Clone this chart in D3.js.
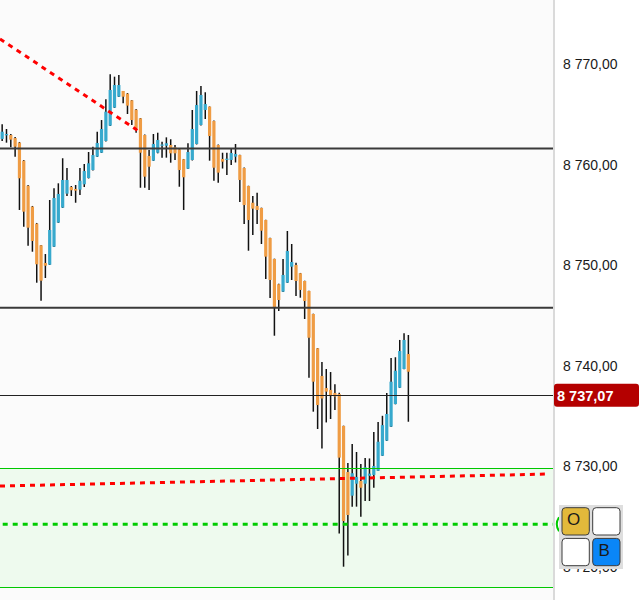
<!DOCTYPE html>
<html><head><meta charset="utf-8">
<script src="https://cdn.jsdelivr.net/npm/d3@7"></script>
<style>html,body{margin:0;padding:0;background:#fff;}svg{display:block;font-family:"Liberation Sans",Arial,sans-serif;}</style>
</head><body><svg id="c" width="639" height="600"></svg>
<script>
// ---- data ----
const openV = [8762.55,8762.94,8762.94,8762.64,8762.18,8760.39,8757.90,8755.82,8754.13,8751.98,
8750.22,8750.05,8751.84,8754.23,8755.72,8757.11,8757.77,8757.58,8757.51,8758.04,
8758.67,8759.46,8760.79,8761.18,8762.35,8763.87,8765.66,8766.75,8767.32,8767.05,
8766.39,8765.46,8764.60,8762.94,8760.86,8760.39,8761.18,8761.90,8761.88,8761.95,
8761.72,8761.52,8760.53,8759.59,8760.46,8762.05,8763.94,8765.43,8765.76,8764.33,
8761.95,8760.56,8760.49,8760.46,8760.79,8760.95,8759.66,8757.87,8756.21,8755.89,
8755.69,8754.49,8752.70,8750.62,8748.11,8747.37,8748.26,8749.85,8750.02,8749.20,
8748.43,8747.44,8745.15,8741.74,8738.99,8737.79,8737.60,8737.30,8737.20,8734.02,
8729.44,8727.09,8728.28,8728.55,8728.28,8729.07,8729.15,8729.56,8731.06,8732.56,
8733.95,8736.20,8737.82,8739.68,8741.17];
const highV = [8764.01,8763.54,8763.04,8762.74,8762.25,8760.46,8757.97,8755.89,8754.20,8752.01,
8751.11,8756.48,8757.64,8758.14,8760.63,8759.66,8757.87,8757.97,8759.66,8760.06,
8761.25,8761.78,8763.27,8764.43,8766.49,8768.98,8768.74,8768.91,8767.32,8767.12,
8766.42,8765.53,8764.63,8762.99,8761.45,8763.04,8763.17,8762.28,8762.71,8762.52,
8761.95,8761.55,8760.56,8762.12,8765.43,8767.32,8767.81,8767.19,8765.78,8764.38,
8762.00,8761.18,8761.18,8761.60,8762.05,8760.98,8759.71,8757.90,8756.88,8757.21,
8755.72,8754.52,8752.73,8750.65,8748.16,8750.62,8753.40,8752.11,8750.25,8749.23,
8748.46,8747.47,8745.18,8741.77,8740.38,8739.68,8739.38,8738.16,8737.33,8734.05,
8730.34,8732.23,8731.43,8730.24,8730.84,8730.79,8733.42,8734.41,8735.03,8737.30,
8740.78,8740.85,8742.57,8743.23,8743.06];
const lowV = [8762.35,8762.18,8761.72,8760.79,8755.49,8753.83,8751.94,8751.34,8748.26,8746.47,
8748.73,8750.02,8751.81,8754.20,8755.69,8756.88,8756.88,8756.21,8756.98,8757.77,
8758.62,8759.41,8760.76,8761.15,8762.30,8763.84,8765.63,8766.72,8766.09,8765.03,
8763.94,8763.17,8757.70,8757.70,8757.48,8760.36,8761.12,8760.69,8760.69,8760.19,
8760.46,8757.80,8755.49,8759.56,8760.41,8762.00,8763.89,8764.53,8760.39,8758.40,
8758.20,8759.61,8758.97,8759.96,8760.21,8756.28,8754.10,8751.44,8753.00,8754.10,
8752.11,8748.63,8746.74,8742.99,8745.45,8747.34,8748.23,8748.53,8746.94,8746.77,
8744.65,8738.82,8735.44,8733.72,8731.78,8734.37,8734.71,8735.61,8723.33,8720.03,
8721.14,8726.00,8726.00,8725.00,8726.56,8726.56,8727.88,8729.54,8731.04,8732.53,
8733.92,8736.17,8737.79,8739.65,8734.44];
const closeV = [8763.27,8763.04,8762.48,8761.78,8758.64,8755.32,8753.73,8752.41,8750.09,8748.46,
8749.95,8753.50,8756.68,8757.08,8758.47,8758.47,8757.45,8757.41,8758.40,8759.36,
8760.13,8760.95,8762.15,8763.54,8765.26,8767.42,8767.91,8767.91,8766.75,8765.86,
8764.43,8763.64,8761.18,8758.80,8759.79,8762.05,8762.45,8762.00,8762.12,8761.12,
8761.12,8759.46,8758.74,8761.25,8763.54,8765.92,8766.92,8766.02,8762.84,8759.69,
8759.20,8760.29,8760.59,8761.15,8761.05,8758.47,8755.98,8754.49,8755.62,8755.49,
8753.43,8750.85,8748.53,8745.80,8746.54,8749.03,8751.41,8750.32,8748.43,8747.54,
8746.44,8742.79,8738.42,8736.10,8736.75,8737.43,8737.00,8736.95,8730.87,8724.57,
8725.17,8729.32,8728.95,8727.88,8729.91,8729.28,8730.04,8732.45,8734.10,8735.21,
8738.42,8739.51,8741.47,8742.57,8739.41];
const tickValues = [8720, 8730, 8740, 8750, 8760, 8770];
const levelLines = [8761.60, 8745.78];
const lastPrice = 8737.07;
const zoneTop = 8729.84, zoneMid = 8724.25, zoneBottom = 8717.98;
const trendA = [[-0.5, 8772.49], [31.9, 8763.24]];
const trendB = [[-0.5, 8728.05], [126.3, 8729.24]];
const buttons = [{t:"O", c:"#e2b93b"}, {t:"", c:"#ffffff"}, {t:"", c:"#ffffff"}, {t:"B", c:"#0a86f7"}];

// ---- chart ----
const W = 639, H = 600, plotW = 554;
const svg = d3.select("#c");
const x = d3.scaleLinear().domain([-0.5, 127.7]).range([0, plotW]);
const y = d3.scaleLinear().domain([8720, 8770]).range([567, 64]);
const fmt = d3.formatLocale({decimal: ",", thousands: " ", grouping: [3], currency: ["", ""]}).format(",.2f");

svg.append("rect").attr("width", W).attr("height", H).attr("fill", "#fff");
svg.append("rect").attr("width", plotW).attr("height", H).attr("fill", "#fbfbfb");

// zone
svg.append("rect").attr("x", 0).attr("y", y(zoneTop)).attr("width", plotW)
  .attr("height", y(zoneBottom) - y(zoneTop)).attr("fill", "#eefaee");

const data = openV.map((o, i) => ({i, o, h: highV[i], l: lowV[i], c: closeV[i]}));
const cg = svg.append("g");
cg.selectAll("line.w").data(data).join("line").attr("class", "w")
  .attr("x1", d => x(d.i)).attr("x2", d => x(d.i))
  .attr("y1", d => y(d.h)).attr("y2", d => y(d.l))
  .attr("stroke", "#111").attr("stroke-width", 1.5);
cg.selectAll("rect.b").data(data).join("rect").attr("class", "b")
  .attr("x", d => x(d.i) - 1.6).attr("width", 3.2)
  .attr("y", d => y(Math.max(d.o, d.c)))
  .attr("height", d => Math.max(1.3, Math.abs(y(d.o) - y(d.c))))
  .attr("fill", d => d.c >= d.o ? "#37a9cd" : "#ef9c44");

// horizontal lines
svg.selectAll("line.lvl").data(levelLines).join("line").attr("class", "lvl")
  .attr("x1", 0).attr("x2", plotW).attr("y1", d => y(d)).attr("y2", d => y(d))
  .attr("stroke", "#3a3a3a").attr("stroke-width", 2);
[zoneTop, zoneBottom].forEach(v => {
  svg.append("line").attr("x1", 0).attr("x2", plotW).attr("y1", y(v)).attr("y2", y(v))
    .attr("stroke", "#00c800").attr("stroke-width", 1).attr("shape-rendering", "crispEdges");
});
svg.append("line").attr("x1", 0).attr("x2", plotW).attr("y1", y(zoneMid)).attr("y2", y(zoneMid))
  .attr("stroke", "#00cc00").attr("stroke-width", 3).attr("stroke-dasharray", "5,5").attr("stroke-dashoffset", 7.3);
svg.append("line").attr("x1", 0).attr("x2", plotW).attr("y1", y(lastPrice)).attr("y2", y(lastPrice))
  .attr("stroke", "#222").attr("stroke-width", 1).attr("shape-rendering", "crispEdges");

const line = d3.line().x(d => x(d[0])).y(d => y(d[1]));
[trendA, trendB].forEach(t => {
  svg.append("path").attr("d", line(t)).attr("fill", "none")
    .attr("stroke", "#ff0000").attr("stroke-width", 3).attr("stroke-dasharray", "5,5");
});

// separator
svg.append("rect").attr("x", plotW - 1).attr("y", 0).attr("width", 2).attr("height", H).attr("fill", "#dadada");

// axis
const ax = svg.append("g").attr("transform", `translate(${plotW},0)`)
  .call(d3.axisRight(y).tickValues(tickValues).tickSize(0).tickPadding(9).tickFormat(fmt));
ax.select(".domain").remove();
ax.selectAll("text").attr("font-size", 14).attr("fill", "#1a1a1a").attr("font-family", '"Liberation Sans", Arial, sans-serif');

// price label
svg.append("rect").attr("x", plotW).attr("y", y(lastPrice) - 11.5).attr("width", W - plotW).attr("height", 23)
  .attr("rx", 3).attr("fill", "#b40000");
svg.append("text").attr("x", plotW + 3).attr("y", y(lastPrice) + 5.3).attr("fill", "#fff")
  .attr("font-weight", "bold").attr("font-size", 14.5).text(fmt(lastPrice));

// green marker
svg.append("path").attr("d", `M559,${y(zoneMid) - 7} Q554.5,${y(zoneMid)} 559,${y(zoneMid) + 7}`)
  .attr("fill", "none").attr("stroke", "#00cc00").attr("stroke-width", 2);

// widget
const wg = svg.append("g");
wg.append("rect").attr("x", 559).attr("y", 505).attr("width", 64).attr("height", 64).attr("fill", "#dedede");
buttons.forEach((b, k) => {
  const bx = 562 + (k % 2) * 30.7, by = 507.7 + Math.floor(k / 2) * 30.7;
  wg.append("rect").attr("x", bx).attr("y", by).attr("width", 27.3).attr("height", 27.3).attr("rx", 3.5)
    .attr("fill", b.c).attr("stroke", "#3c3c3c").attr("stroke-width", 1);
  if (b.t) wg.append("text").attr("x", bx + 11.5).attr("y", by + 17.5).attr("text-anchor", "middle")
    .attr("font-size", 17).attr("fill", "#1a1a1a").text(b.t);
});
</script></body></html>
